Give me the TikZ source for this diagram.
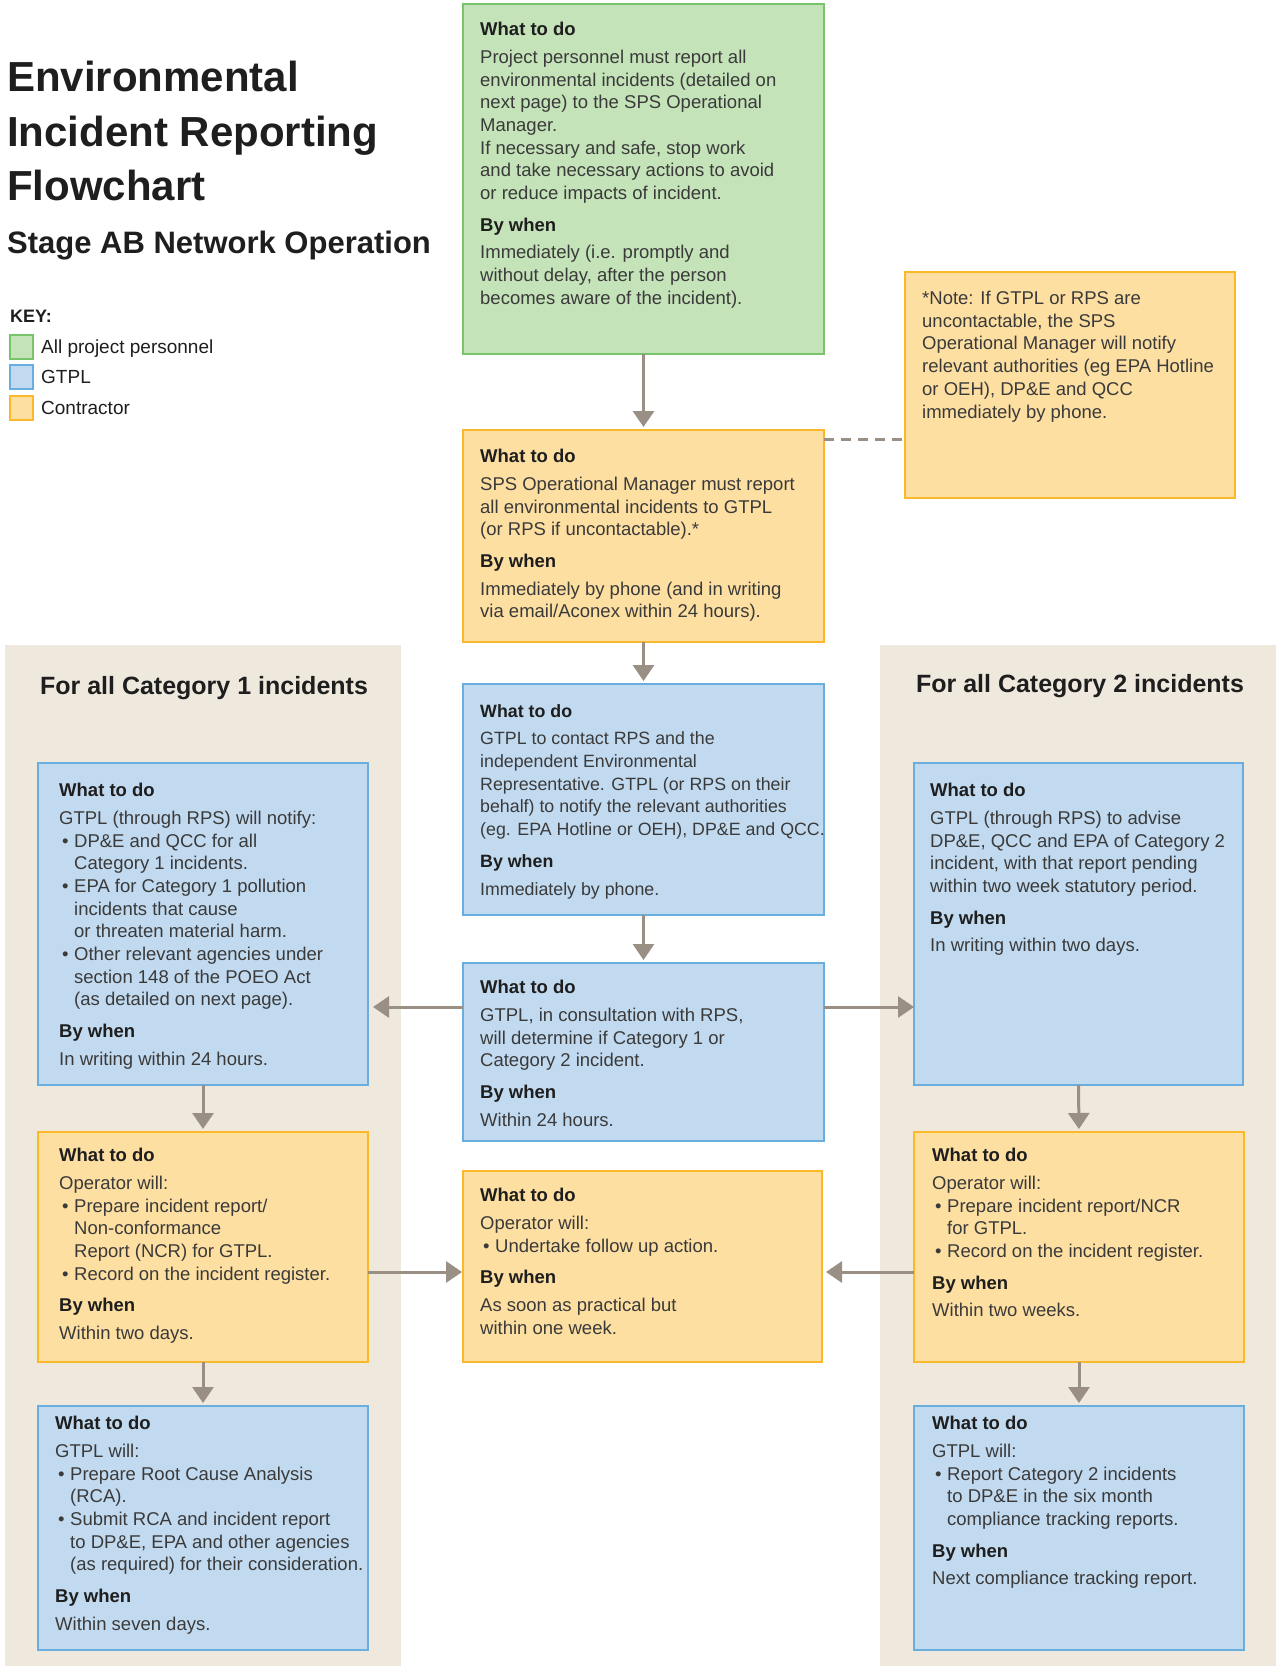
\documentclass[tikz,border=0pt]{standalone}
\usepackage{fontspec}
\setmainfont{Liberation Sans}
\usetikzlibrary{arrows.meta,calc}
\definecolor{greenF}{HTML}{C5E3B9}
\definecolor{greenD}{HTML}{78C46A}
\definecolor{blueF}{HTML}{C2DAF0}
\definecolor{blueD}{HTML}{6AAEE0}
\definecolor{orangeF}{HTML}{FDDFA2}
\definecolor{orangeD}{HTML}{FBB929}
\definecolor{panelC}{HTML}{EFE8DD}
\definecolor{arrC}{HTML}{9A8F85}
\definecolor{headc}{HTML}{1E1E1E}
\definecolor{bodyc}{HTML}{3A3A3A}
\newcommand\wtd{{\bfseries\color{headc}What to do}\\[5pt]}
\newcommand\bw{\\[9pt]{\bfseries\color{headc}By when}\\[5pt]}
\newcommand\bul{\hspace*{3pt}\makebox[12pt][l]{•}}
\newcommand\ind{\hspace*{15pt}}
\tikzset{
  boxbase/.style={rectangle, line width=2.5pt, inner sep=0pt, outer sep=0pt, anchor=north west},
  gbox/.style={boxbase, draw=greenD, fill=greenF},
  bbox/.style={boxbase, draw=blueD, fill=blueF},
  obox/.style={boxbase, draw=orangeD, fill=orangeF},
  txt/.style={anchor=north west, inner sep=0pt, align=left, text=bodyc, font=\fontsize{18.5}{22.7}\selectfont},
  arr/.style={draw=arrC, line width=3pt, -{Triangle[length=16pt,width=21pt]}, shorten >=3pt},
  dashline/.style={draw=arrC, line width=3pt, dash pattern=on 10pt off 7pt},
  ttl/.style={anchor=base west, inner sep=0pt, text=headc, font=\bfseries\fontsize{42}{50}\selectfont},
  keytxt/.style={anchor=base west, inner sep=0pt, text=headc, font=\fontsize{19}{22}\selectfont},
  cathead/.style={anchor=base, inner sep=0pt, text=headc, font=\bfseries\fontsize{25}{30}\selectfont}
}
\begin{document}
\begin{tikzpicture}[x=1pt,y=-1pt]
\useasboundingbox[fill=white] (0,0) rectangle (1276,1666);
% panels
\fill[panelC] (5,645) rectangle (401,1666);
\fill[panelC] (880,645) rectangle (1276,1666);
% title
\node[ttl] (t1) at (7,91.5) {Environmental};
\node[ttl] (t2) at (7,146) {Incident Reporting};
\node[ttl] (t3) at (7,200.5) {Flowchart};
\node[ttl, font=\bfseries\fontsize{31}{36}\selectfont] (t4) at (7,253) {Stage AB Network Operation};
% key
\node[keytxt, font=\bfseries\fontsize{18}{22}\selectfont] (key) at (10,322) {KEY:};
\node[gbox, line width=2pt, minimum width=23pt, minimum height=24pt] (kg) at (10,335) {};
\node[bbox, line width=2pt, minimum width=23pt, minimum height=24pt] (kb) at (10,365) {};
\node[obox, line width=2pt, minimum width=23pt, minimum height=24pt] (ko) at (10,396) {};
\node[keytxt] (kgl) at (41,353) {All project personnel};
\node[keytxt] (kbl) at (41,383) {GTPL};
\node[keytxt] (kol) at (41,414) {Contractor};
% category headings
\node[cathead] (c1) at (204,694) {For all Category 1 incidents};
\node[cathead] (c2) at (1080,692) {For all Category 2 incidents};
% boxes
\node[gbox, minimum width=361pt, minimum height=350pt] (g) at (463,4) {};
\node[obox, minimum width=361pt, minimum height=212pt] (o1) at (463,430) {};
\node[obox, minimum width=330pt, minimum height=226pt] (note) at (905,272) {};
\node[bbox, minimum width=361pt, minimum height=231pt] (b1) at (463,684) {};
\node[bbox, minimum width=361pt, minimum height=178pt] (b2) at (463,963) {};
\node[obox, minimum width=359pt, minimum height=191pt] (o2) at (463,1171) {};
\node[bbox, minimum width=330pt, minimum height=322pt] (lb1) at (38,763) {};
\node[obox, minimum width=330pt, minimum height=230pt] (lo) at (38,1132) {};
\node[bbox, minimum width=330pt, minimum height=244pt] (lb2) at (38,1406) {};
\node[bbox, minimum width=329pt, minimum height=322pt] (rb1) at (914,763) {};
\node[obox, minimum width=330pt, minimum height=230pt] (ro) at (914,1132) {};
\node[bbox, minimum width=330pt, minimum height=244pt] (rb2) at (914,1406) {};
% texts
\node[txt] (g-t) at ($(g.north west)+(17,18)$) {\wtd Project personnel must report all\\ environmental incidents (detailed on\\ next page) to the SPS Operational\\ Manager.\\ If necessary and safe, stop work\\ and take necessary actions to avoid\\ or reduce impacts of incident.\bw Immediately (i.e. promptly and\\ without delay, after the person\\ becomes aware of the incident).};
\node[txt] (o1-t) at ($(o1.north west)+(17,19)$) {\wtd SPS Operational Manager must report\\ all environmental incidents to GTPL\\ (or RPS if uncontactable).*\bw Immediately by phone (and in writing\\ via email/Aconex within 24 hours).};
\node[txt] (note-t) at ($(note.north west)+(17,19)$) {*Note: If GTPL or RPS are\\ uncontactable, the SPS\\ Operational Manager will notify\\ relevant authorities (eg EPA Hotline\\ or OEH), DP\&E and QCC\\ immediately by phone.};
\node[txt, font=\fontsize{17.8}{22.7}\selectfont] (b1-t) at ($(b1.north west)+(17,20)$) {\wtd GTPL to contact RPS and the\\ independent Environmental\\ Representative. GTPL (or RPS on their\\ behalf) to notify the relevant authorities\\ (eg. EPA Hotline or OEH), DP\&E and QCC.\bw Immediately by phone.};
\node[txt] (b2-t) at ($(b2.north west)+(17,17)$) {\wtd GTPL, in consultation with RPS,\\ will determine if Category 1 or\\ Category 2 incident.\bw Within 24 hours.};
\node[txt] (o2-t) at ($(o2.north west)+(17,17)$) {\wtd Operator will:\\ \bul Undertake follow up action.\bw As soon as practical but\\ within one week.};
\node[txt] (lb1-t) at ($(lb1.north west)+(21,20)$) {\wtd GTPL (through RPS) will notify:\\ \bul DP\&E and QCC for all\\ \ind Category 1 incidents.\\ \bul EPA for Category 1 pollution\\ \ind incidents that cause\\ \ind or threaten material harm.\\ \bul Other relevant agencies under\\ \ind section 148 of the POEO Act\\ \ind (as detailed on next page).\bw In writing within 24 hours.};
\node[txt] (lo-t) at ($(lo.north west)+(21,16)$) {\wtd Operator will:\\ \bul Prepare incident report/\\ \ind Non-conformance\\ \ind Report (NCR) for GTPL.\\ \bul Record on the incident register.\bw Within two days.};
\node[txt] (lb2-t) at ($(lb2.north west)+(17,10)$) {\wtd GTPL will:\\ \bul Prepare Root Cause Analysis\\ \ind (RCA).\\ \bul Submit RCA and incident report\\ \ind to DP\&E, EPA and other agencies\\ \ind (as required) for their consideration.\bw Within seven days.};
\node[txt] (rb1-t) at ($(rb1.north west)+(16,20)$) {\wtd GTPL (through RPS) to advise\\ DP\&E, QCC and EPA of Category 2\\ incident, with that report pending\\ within two week statutory period.\bw In writing within two days.};
\node[txt] (ro-t) at ($(ro.north west)+(18,16)$) {\wtd Operator will:\\ \bul Prepare incident report/NCR\\ \ind for GTPL.\\ \bul Record on the incident register.\bw Within two weeks.};
\node[txt] (rb2-t) at ($(rb2.north west)+(18,10)$) {\wtd GTPL will:\\ \bul Report Category 2 incidents\\ \ind to DP\&E in the six month\\ \ind compliance tracking reports.\bw Next compliance tracking report.};
% connectors
\draw[arr] (g.south) -- (o1.north);
\draw[arr] (o1.south) -- (b1.north);
\draw[arr] (b1.south) -- (b2.north);
\draw[dashline] ([yshift=-9pt]o1.north east) -- ([yshift=-9pt]o1.north east -| note.west);
\draw[arr, shorten >=5pt] ([yshift=-44pt]b2.north west) -- ([yshift=-44pt]b2.north west -| lb1.east);
\draw[arr, shorten >=0pt] ([yshift=-44pt]b2.north east) -- ([yshift=-44pt]b2.north east -| rb1.west);
\draw[arr] (lb1.south) -- (lo.north);
\draw[arr] (lo.south) -- (lb2.north);
\draw[arr] (rb1.south) -- (ro.north);
\draw[arr] (ro.south) -- (rb2.north);
\draw[arr, shorten >=1pt] ([yshift=-101pt]o2.north west -| lo.east) -- ([yshift=-101pt]o2.north west);
\draw[arr, shorten >=4pt] ([yshift=-101pt]o2.north east -| ro.west) -- ([yshift=-101pt]o2.north east);
\end{tikzpicture}
\end{document}
